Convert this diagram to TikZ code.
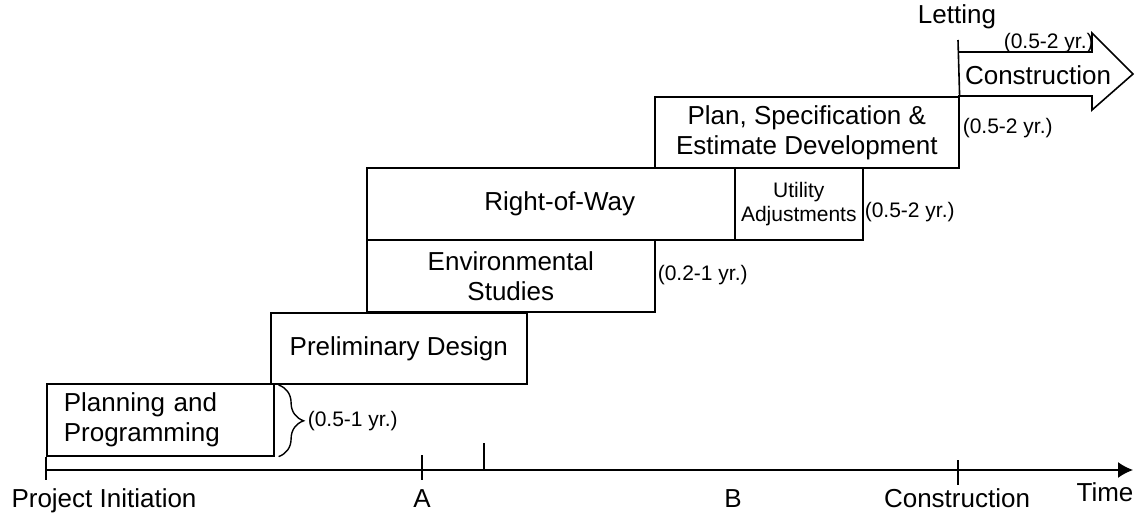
\documentclass[tikz,border=0pt]{standalone}
\usepackage{fontspec}
\setmainfont{Liberation Sans}
\usetikzlibrary{arrows.meta,decorations.pathreplacing}
\newcommand\labfont{\fontsize{26bp}{30bp}\selectfont}
\newcommand\durfont{\fontsize{21bp}{24bp}\selectfont}

\begin{document}
\begin{tikzpicture}[x=1bp,y=-1bp,line join=miter,font=\labfont,
  box/.style={draw,rectangle,inner sep=0pt,anchor=north west,align=center},
  dur/.style={anchor=west,inner sep=0pt,font=\durfont},
  axlab/.style={anchor=base,inner sep=0pt}]
  \pgfsetlinewidth{1.6bp}
  \useasboundingbox (0,0) rectangle (1139,516);
%%
  % Node: plan
  \node[box,minimum width=227bp,minimum height=72bp,align=left,text width=193bp,inner xsep=17bp] (plan) at (46,383) {Planning and\\Programming};
  % Node: prelim
  \node[box,minimum width=256bp,minimum height=71bp] (prelim) at (270,312) {Preliminary Design};
  % Node: env
  \node[box,minimum width=288bp,minimum height=72bp] (env) at (366,239) {Environmental\\Studies};
  % Node: row
  \node[box,minimum width=368bp,minimum height=72bp] (row) at (366,167) {\hspace*{18bp}Right-of-Way};
  % Node: util
  \node[box,minimum width=128bp,minimum height=72bp,font=\durfont] (util) at (734,167) {Utility\\Adjustments};
  % Node: pse
  \node[box,minimum width=304bp,minimum height=71bp] (pse) at (654,96) {Plan, Specification \&\\Estimate Development};
  % Node: constr
  \draw (958,52) -- (1092,52) -- (1092,33) -- (1133,74) -- (1092,110) -- (1092,96) -- (958,96);
  \node (constr) at (1038,75) {Construction};
  % Node: letting
  \node (letting) at (957,17) {Letting};
  \coordinate (let) at (958,40);
  \draw (let) -- (pse.north east);
  % Durations
  \node[dur] (dconstr) at (1003,43) {(0.5-2 yr.)};
  \node[dur] (dpse) at (962,128) {(0.5-2 yr.)};
  \node[dur] (dutil) at (864,212) {(0.5-2 yr.)};
  \node[dur] (denv) at (657,275) {(0.2-1 yr.)};
  \draw[decorate,decoration={brace,amplitude=25bp},line width=1.4bp] ([xshift=4bp,yshift=-2bp]plan.north east) -- ([xshift=4bp]plan.south east);
  \node[dur] (dplan) at (307,421) {(0.5-1 yr.)};
  % Edge: time axis
  \coordinate (t0) at (46,470);
  \coordinate (ta) at (422,470);
  \coordinate (tb) at (484,470);
  \coordinate (tc) at (958,470);
  \coordinate (tend) at (1133,470);
  \draw[-{Latex[length=15bp,width=16bp]}] (t0) -- (tend);
  \draw ([yshift=13bp]t0) -- ([yshift=-10bp]t0);
  \draw ([yshift=15bp]ta) -- ([yshift=-10bp]ta);
  \draw ([yshift=27bp]tb) -- (tb);
  \draw ([yshift=10bp]tc) -- ([yshift=-15bp]tc);
  \node[axlab] (init) at (104,507) {Project Initiation};
  \node[axlab] (mA) at (422,507) {A};
  \node[axlab] (mB) at (733,507) {B};
  \node[axlab] (mC) at (957,507) {Construction};
  \node[axlab] (time) at (1105,501) {Time};
%
\end{tikzpicture}
\end{document}
